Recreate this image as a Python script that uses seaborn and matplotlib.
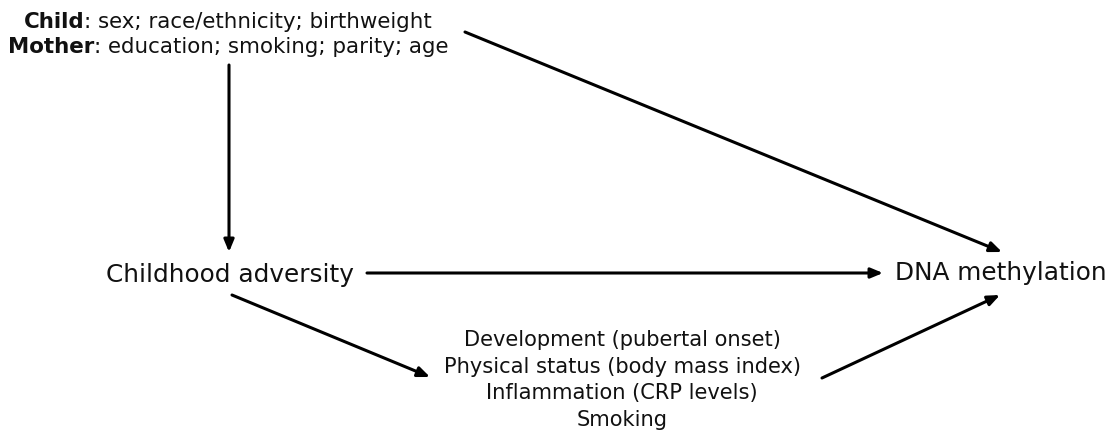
"""
Directed acyclic graph: childhood adversity -> DNA methylation,
with confounders (top) and mediators (bottom).
"""

import matplotlib.pyplot as plt
import seaborn as sns


# node texts
CONFOUNDER_GROUPS = ["Child", "Mother"]
CONFOUNDER_ITEMS = [
    "sex; race/ethnicity; birthweight",
    "education; smoking; parity; age",
]
EXPOSURE = "Childhood adversity"
OUTCOME = "DNA methylation"
MEDIATORS = [
    "Development (pubertal onset)",
    "Physical status (body mass index)",
    "Inflammation (CRP levels)",
    "Smoking",
]

# edges of the graph (from node, to node)
EDGES = [
    ("confounders", "exposure"),
    ("confounders", "outcome"),
    ("exposure", "outcome"),
    ("exposure", "mediators"),
    ("mediators", "outcome"),
]

# layout, in pixels of the 1113x433 canvas
WIDTH, HEIGHT = 1113, 433
CONF_CENTER_X = 228
CONF_LINE_Y = [22, 47]
EXPOSURE_XY = (230, 275)
OUTCOME_XY = (1001, 273)
MEDIATOR_CENTER_X = 622
MEDIATOR_LINE_Y = [340, 367, 393, 420]
EDGE_ENDS = {
    ("confounders", "exposure"): ((229, 65), (229, 252)),
    ("confounders", "outcome"): ((465, 32), (1002, 252)),
    ("exposure", "outcome"): ((367, 273), (883, 273)),
    ("exposure", "mediators"): ((232, 295), (430, 377)),
    ("mediators", "outcome"): ((822, 378), (1000, 295)),
}

TEXT_COLOR = "#111111"
LINE_COLOR = "#000000"

sns.set_theme(style="white")
plt.rcParams["font.family"] = ["DejaVu Sans"]


def draw_mixed_line(ax, renderer, bold, rest, center_x, y, size):
    """Bold group name followed by regular text, centred as one line."""
    probe_bold = ax.text(0, 0, bold, fontsize=size, fontweight="bold")
    probe_rest = ax.text(0, 0, rest, fontsize=size)
    w_bold = probe_bold.get_window_extent(renderer).width
    w_rest = probe_rest.get_window_extent(renderer).width
    probe_bold.remove()
    probe_rest.remove()
    left = center_x - (w_bold + w_rest) / 2
    ax.text(left, y, bold, fontsize=size, fontweight="bold", color=TEXT_COLOR,
            ha="left", va="center")
    ax.text(left + w_bold, y, rest, fontsize=size, color=TEXT_COLOR,
            ha="left", va="center")


def main() -> None:
    fig = plt.figure(figsize=(WIDTH / 100, HEIGHT / 100), dpi=100)
    ax = fig.add_axes([0, 0, 1, 1])
    ax.set_xlim(0, WIDTH)
    ax.set_ylim(HEIGHT, 0)
    ax.axis("off")
    renderer = fig.canvas.get_renderer()

    for group, items, y in zip(CONFOUNDER_GROUPS, CONFOUNDER_ITEMS, CONF_LINE_Y):
        draw_mixed_line(ax, renderer, group, ": " + items, CONF_CENTER_X, y, 15.4)

    ax.text(*EXPOSURE_XY, EXPOSURE, fontsize=17.8, color=TEXT_COLOR,
            ha="center", va="center")
    ax.text(*OUTCOME_XY, OUTCOME, fontsize=17.8, color=TEXT_COLOR,
            ha="center", va="center")
    for label, y in zip(MEDIATORS, MEDIATOR_LINE_Y):
        ax.text(MEDIATOR_CENTER_X, y, label, fontsize=15.1, color=TEXT_COLOR,
                ha="center", va="center")

    for edge in EDGES:
        start, end = EDGE_ENDS[edge]
        ax.annotate(
            "",
            xy=end,
            xytext=start,
            arrowprops=dict(
                arrowstyle="-|>,head_length=0.6,head_width=0.25",
                mutation_scale=12,
                color=LINE_COLOR,
                lw=2.2,
                shrinkA=0,
                shrinkB=0,
            ),
        )

    fig.savefig("out.png", dpi=100)
    plt.close(fig)


if __name__ == "__main__":
    main()
